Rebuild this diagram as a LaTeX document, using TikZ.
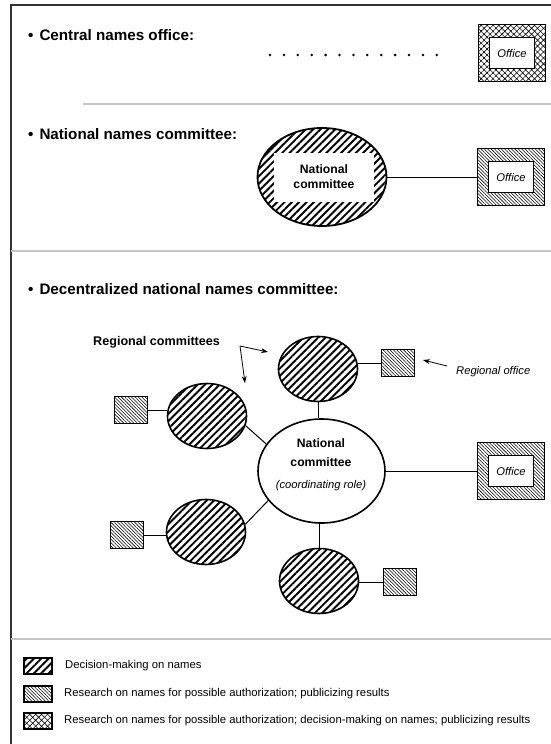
\documentclass[tikz,border=0pt]{standalone}
\usepackage{fontspec}
\setmainfont{Liberation Sans}
\usetikzlibrary{positioning,shapes.geometric,patterns.meta,arrows.meta}
\tikzset{
  decisionFill/.style={pattern={Lines[angle=45,distance=5.2pt,line width=1.9pt]}},
  researchFill/.style={pattern={Lines[angle=-45,distance=2.4pt,line width=0.55pt]}},
  bothFill/.style={pattern={Lines[angle=45,distance=4.2pt,line width=0.6pt]},
    postaction={pattern={Lines[angle=-45,distance=4.2pt,line width=0.6pt]}}},
  regEll/.style={ellipse, draw, line width=1.6pt, decisionFill, minimum width=79pt, minimum height=65pt, inner sep=0pt},
  regBox/.style={rectangle, draw, line width=1.1pt, researchFill, minimum width=33pt, minimum height=27pt, inner sep=0pt},
  officeBox/.style={rectangle, draw, line width=1.6pt, minimum width=67pt, minimum height=57pt, inner sep=0pt},
  officeIn/.style={rectangle, draw, fill=white, line width=0.6pt, minimum width=45pt, minimum height=31pt, inner sep=0pt, font=\fontsize{11.2}{13}\selectfont\itshape},
  heading/.style={anchor=west, inner sep=0pt, font=\fontsize{15.2}{18}\selectfont\bfseries},
  legendBox/.style={rectangle, draw, line width=1.1pt, minimum width=28pt, minimum height=16pt, inner sep=0pt},
  legendText/.style={anchor=west, inner sep=0pt, font=\fontsize{11.3}{13}\selectfont},
  sepLine/.style={gray!45, line width=1.2pt},
  link/.style={line width=1pt},
  pointer/.style={-{Stealth[length=7pt,width=5pt]}, line width=0.8pt}
}

\begin{document}
\begin{tikzpicture}[x=1pt, y=-1pt]
  \useasboundingbox (0,0) rectangle (551,744);
  % frame and separators
  \draw[line width=1.4pt, black!80] (11,744) -- (11,5) -- (551,5);
  \draw[sepLine] (83,104) -- (551,104);
  \draw[sepLine] (11,251) -- (551,251);
  \draw[sepLine] (11,639) -- (551,639);

  % central names office
  \node[heading] (headA) at (28,35) {\textbullet\hspace{6pt}Central names office:};
  \foreach \i in {0,...,12}
    \fill (270+13.9*\i,55) circle (1.4pt);
  \node[officeBox, bothFill, line width=1.2pt] (officeA) at (512,53) {};
  \node[officeIn] (officeAin) at (officeA) {Office};

  % national names committee
  \node[heading] (headB) at (28,134) {\textbullet\hspace{6pt}National names committee:};
  \node[ellipse, draw, line width=1.8pt, decisionFill, minimum width=129pt, minimum height=98pt, inner sep=0pt] (ncEll) at (322,177) {};
  \node[rectangle, fill=white, minimum width=100pt, minimum height=49pt, inner sep=0pt, align=center, font=\fontsize{12.2}{15}\selectfont\bfseries] (ncText) at (324,177) {National\\committee};
  \node[officeBox, researchFill] (officeB) at (511,177) {};
  \node[officeIn] (officeBin) at (officeB) {Office};
  \draw[link] (ncEll) -- (officeB);

  % decentralized national names committee
  \node[heading] (headC) at (28,289) {\textbullet\hspace{6pt}Decentralized national names committee:};
  \node[ellipse, draw, fill=white, line width=1.6pt, minimum width=127pt, minimum height=104pt, inner sep=0pt] (natCom) at (321.5,471) {};
  \node[align=center, inner sep=0pt, font=\fontsize{12.2}{19}\selectfont] (natText) at (321,465)
    {\textbf{National}\\\textbf{committee}\\[3pt]{\fontsize{11.2}{13}\selectfont\itshape (coordinating role)}};
  \node[regEll] (regTop) at (318,369) {};
  \node[regEll] (regUL) at (207,416) {};
  \node[regEll] (regLL) at (206,532) {};
  \node[regEll] (regBot) at (319,581) {};
  \node[regBox] (boxTop) at (398,363) {};
  \node[regBox] (boxUL) at (131,410) {};
  \node[regBox] (boxLL) at (127,535) {};
  \node[regBox] (boxBot) at (400,582) {};
  \node[officeBox, researchFill] (officeC) at (511,471) {};
  \node[officeIn] (officeCin) at (officeC) {Office};

  \draw[link] (regTop) -- (regTop |- natCom.north);
  \draw[link] (regBot) -- (regBot |- natCom.south);
  \draw[link] (regUL.-14) -- (natCom.154);
  \draw[link] (regLL.11) -- (natCom.-151);
  \draw[link] (boxTop) -- (boxTop -| regTop.east);
  \draw[link] (boxUL) -- (boxUL -| regUL.west);
  \draw[link] (boxLL) -- (boxLL -| regLL.west);
  \draw[link] (boxBot) -- (boxBot -| regBot.east);
  \draw[link] (natCom) -- (officeC);

  % labels with pointers
  \node[anchor=west, inner sep=0pt, font=\fontsize{12.6}{15}\selectfont\bfseries] (rcLabel) at (93,342) {Regional committees};
  \coordinate (rcFork) at (240,346);
  \coordinate (rcTipA) at (268,352);
  \coordinate (rcTipB) at (245,383);
  \draw[pointer] (rcFork) -- (rcTipA);
  \draw[pointer] (rcFork) -- (rcTipB);
  \node[anchor=west, inner sep=0pt, font=\fontsize{11.2}{13}\selectfont\itshape] (roLabel) at (456,372) {Regional office};
  \coordinate (roTail) at (447,366);
  \coordinate (roTip) at (423,360);
  \draw[pointer] (roTail) -- (roTip);

  % legend
  \node[legendBox, decisionFill, line width=1.4pt] (legA) at (38,666) {};
  \node[legendText] (legAtext) at (65,666) {Decision-making on names};
  \node[legendBox, researchFill] (legB) at (38,694) {};
  \node[legendText] (legBtext) at (64,694) {Research on names for possible authorization; publicizing results};
  \node[legendBox, bothFill] (legC) at (38,721) {};
  \node[legendText] (legCtext) at (64,721) {Research on names for possible authorization; decision-making on names; publicizing results};
\end{tikzpicture}
\end{document}
